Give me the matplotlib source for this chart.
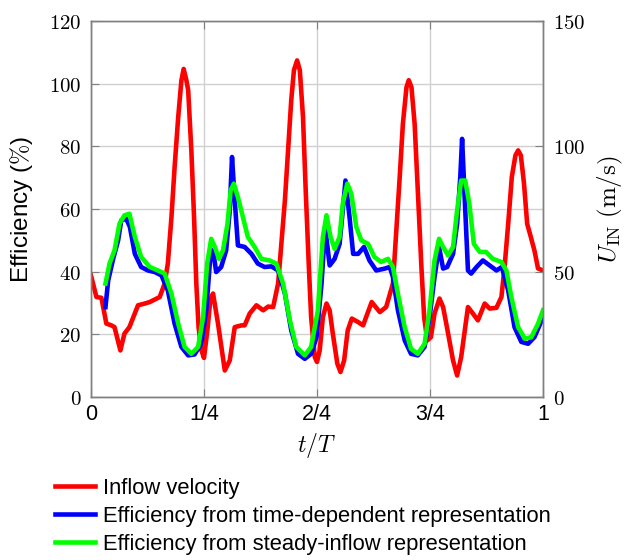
import matplotlib
matplotlib.use("Agg")
import matplotlib.pyplot as plt

plt.rcParams["mathtext.fontset"] = "cm"

# inflow velocity (m/s)
t_vel = [0.0, 0.012, 0.023, 0.034, 0.045, 0.052, 0.065, 0.074, 0.085, 0.104, 0.119, 0.130,
         0.141, 0.152, 0.163, 0.170, 0.178, 0.185, 0.193, 0.200, 0.205, 0.211, 0.215, 0.222,
         0.228, 0.233, 0.238, 0.244, 0.250, 0.258, 0.264, 0.270, 0.281, 0.296, 0.307, 0.318,
         0.333, 0.340, 0.351, 0.366, 0.381, 0.392, 0.403, 0.414, 0.429, 0.436, 0.443, 0.449,
         0.456, 0.462, 0.469, 0.475, 0.482, 0.487, 0.495, 0.500, 0.506, 0.513, 0.521, 0.528,
         0.535, 0.545, 0.552, 0.560, 0.568, 0.577, 0.591, 0.602, 0.621, 0.639, 0.653, 0.668,
         0.675, 0.683, 0.690, 0.698, 0.703, 0.709, 0.716, 0.723, 0.731, 0.737, 0.744, 0.752,
         0.760, 0.771, 0.779, 0.786, 0.801, 0.810, 0.819, 0.834, 0.845, 0.856, 0.871, 0.882,
         0.897, 0.908, 0.915, 0.923, 0.931, 0.939, 0.945, 0.951, 0.958, 0.965, 0.973, 0.981,
         0.989, 1.0]
velocity = [48.5, 39.9, 39.6, 29.3, 28.6, 27.9, 18.6, 25.3, 27.9, 36.6, 37.3, 37.9,
            38.9, 39.9, 45.3, 53.3, 71.8, 91.8, 111.8, 126.3, 130.9, 126.4, 122.4, 98.4,
            71.8, 45.3, 27.9, 18.8, 15.6, 27.5, 38.8, 41.3, 29.3, 10.6, 14.6, 27.9,
            28.6, 28.6, 33.3, 36.6, 34.6, 36.1, 35.9, 45.3, 78.5, 98.4, 118.4, 130.4,
            134.3, 130.4, 111.8, 82.5, 51.9, 31.9, 16.0, 14.0, 18.6, 31.9, 37.3, 34.6,
            25.3, 13.3, 10.0, 14.6, 26.6, 31.3, 29.9, 28.6, 37.9, 33.9, 35.9, 45.3,
            65.1, 87.8, 109.0, 123.6, 126.4, 123.6, 109.0, 82.5, 51.9, 31.9, 22.6, 23.9,
            33.3, 39.3, 35.9, 29.3, 14.6, 8.6, 16.0, 35.9, 33.3, 30.6, 37.3, 35.3,
            35.6, 39.9, 51.9, 69.1, 87.8, 96.4, 98.4, 96.4, 85.1, 69.1, 63.9, 58.5,
            51.3, 50.5]

# efficiency from time-dependent representation (%)
t_td = [0.032, 0.038, 0.049, 0.060, 0.067, 0.078, 0.086, 0.097, 0.111, 0.126, 0.141, 0.156,
        0.170, 0.185, 0.200, 0.215, 0.229, 0.244, 0.255, 0.265, 0.270, 0.277, 0.288, 0.299,
        0.307, 0.312, 0.318, 0.325, 0.340, 0.355, 0.369, 0.384, 0.399, 0.414, 0.429, 0.443,
        0.458, 0.473, 0.487, 0.499, 0.510, 0.518, 0.528, 0.539, 0.550, 0.557, 0.563, 0.572,
        0.580, 0.591, 0.604, 0.616, 0.631, 0.650, 0.661, 0.668, 0.679, 0.694, 0.708, 0.723,
        0.738, 0.749, 0.760, 0.770, 0.779, 0.788, 0.801, 0.810, 0.817, 0.821, 0.827, 0.834,
        0.841, 0.853, 0.867, 0.882, 0.897, 0.909, 0.923, 0.937, 0.952, 0.967, 0.981, 1.0]
eff_td = [28.7, 37.2, 44.1, 50.0, 56.4, 56.9, 54.3, 45.7, 41.5, 40.4, 39.9, 38.8,
          34.0, 23.4, 16.0, 13.3, 13.6, 17.0, 27.7, 46.8, 46.8, 39.9, 41.5, 46.8,
          59.6, 76.6, 62.8, 48.4, 47.9, 45.7, 42.6, 41.5, 41.7, 40.4, 33.0, 21.3,
          13.8, 12.2, 13.8, 19.1, 36.2, 54.3, 42.0, 44.1, 48.9, 59.6, 69.1, 57.4,
          45.7, 45.7, 47.9, 43.6, 40.4, 41.0, 41.5, 38.3, 27.7, 18.1, 13.8, 13.3,
          16.0, 25.5, 38.3, 47.9, 41.0, 41.5, 45.7, 55.3, 70.2, 82.4, 62.8, 40.4,
          39.4, 41.5, 43.6, 42.0, 40.4, 41.5, 34.0, 22.3, 17.6, 17.0, 19.1, 25.5]

# efficiency from steady-inflow representation (%)
t_si = [0.032, 0.041, 0.052, 0.063, 0.074, 0.085, 0.097, 0.111, 0.130, 0.148, 0.163, 0.178,
        0.193, 0.207, 0.222, 0.237, 0.248, 0.257, 0.266, 0.274, 0.283, 0.292, 0.302, 0.309,
        0.316, 0.325, 0.336, 0.347, 0.362, 0.377, 0.395, 0.410, 0.425, 0.440, 0.454, 0.473,
        0.487, 0.502, 0.513, 0.521, 0.530, 0.539, 0.550, 0.557, 0.567, 0.576, 0.587, 0.598,
        0.613, 0.627, 0.642, 0.657, 0.668, 0.679, 0.694, 0.708, 0.723, 0.738, 0.749, 0.760,
        0.770, 0.779, 0.790, 0.801, 0.810, 0.819, 0.828, 0.837, 0.847, 0.860, 0.874, 0.889,
        0.908, 0.919, 0.930, 0.945, 0.960, 0.974, 0.989, 1.0]
eff_si = [36.2, 42.6, 46.8, 55.3, 58.0, 58.5, 51.1, 44.7, 41.5, 40.4, 39.4, 33.0,
          23.4, 16.0, 13.8, 16.0, 25.5, 42.6, 50.5, 47.9, 44.1, 46.8, 55.3, 66.0,
          68.1, 63.8, 57.5, 51.1, 47.9, 44.1, 43.6, 42.6, 36.2, 24.5, 16.0, 13.3,
          16.0, 27.7, 51.1, 58.0, 51.1, 47.3, 51.1, 61.7, 68.1, 64.9, 54.3, 50.0,
          48.9, 44.7, 43.1, 44.1, 41.5, 33.0, 22.3, 15.4, 13.8, 17.0, 27.7, 43.6,
          50.5, 47.9, 45.2, 47.9, 59.6, 69.1, 69.1, 61.7, 48.9, 46.3, 46.3, 44.1,
          43.1, 40.4, 31.9, 22.3, 18.6, 19.1, 23.4, 27.7]

xticks = [0, 0.25, 0.5, 0.75, 1]
xticklabels = ["0", "1/4", "2/4", "3/4", "1"]
eff_ticks = [0, 20, 40, 60, 80, 100, 120]
vel_ticks = [0, 50, 100, 150]

fig = plt.figure(figsize=(6.25, 5.6), dpi=100)
ax = fig.add_axes([0.1456, 0.291, 0.7232, 0.6714])
ax2 = ax.twinx()

ax.set_xlim(0, 1)
ax.set_ylim(0, 120)
ax2.set_ylim(0, 150)

# velocity line lives on the main axes (so it stays under the efficiency curves),
# but uses the right-hand scale
l_vel, = ax.plot(t_vel, velocity, color="#ff0000", lw=3.3, transform=ax2.transData,
                 solid_joinstyle="round", label="Inflow velocity")
l_td, = ax.plot(t_td, eff_td, color="#0000ff", lw=3.3, solid_joinstyle="round",
                label="Efficiency from time-dependent representation")
l_si, = ax.plot(t_si, eff_si, color="#00ff00", lw=3.3, solid_joinstyle="round",
                label="Efficiency from steady-inflow representation")
ax.set_xlim(0, 1)
ax.set_ylim(0, 120)

ax.set_xticks(xticks)
ax.set_xticklabels(xticklabels, family="Liberation Sans", fontsize=15.5)
ax.set_yticks(eff_ticks)
ax.set_yticklabels([f"${v}$" for v in eff_ticks], fontsize=15)
ax2.set_yticks(vel_ticks)
ax2.set_yticklabels([f"${v}$" for v in vel_ticks], fontsize=15)

ax.grid(True, color="#d0d0d0", lw=1.0)
ax.set_axisbelow(True)

for a in (ax, ax2):
    for s in a.spines.values():
        s.set_color("#808080")
        s.set_linewidth(1.0)
ax.tick_params(axis="both", direction="in", length=6, color="#808080", top=True)
ax.tick_params(axis="x", pad=5)
ax.tick_params(axis="y", right=False, pad=7)
ax2.tick_params(axis="y", direction="in", length=6, color="#808080", pad=7)

ax.set_xlabel("$t/T$", fontsize=17, labelpad=4)
ax.set_ylabel(r"Efficiency ($\%$)", fontsize=17.5, family="Liberation Sans", labelpad=10)
ax2.set_ylabel(r"$U_{\mathrm{IN}}\ (\mathrm{m/s})$", fontsize=18, labelpad=8)

fig.legend(handles=[l_vel, l_td, l_si], loc="upper left", bbox_to_anchor=(0.088, 0.147),
           frameon=False, prop={"family": "Liberation Sans", "size": 15.8},
           handlelength=1.83, handletextpad=0.36, labelspacing=0.33, borderpad=0,
           borderaxespad=0)

fig.savefig("out.png", dpi=100)
